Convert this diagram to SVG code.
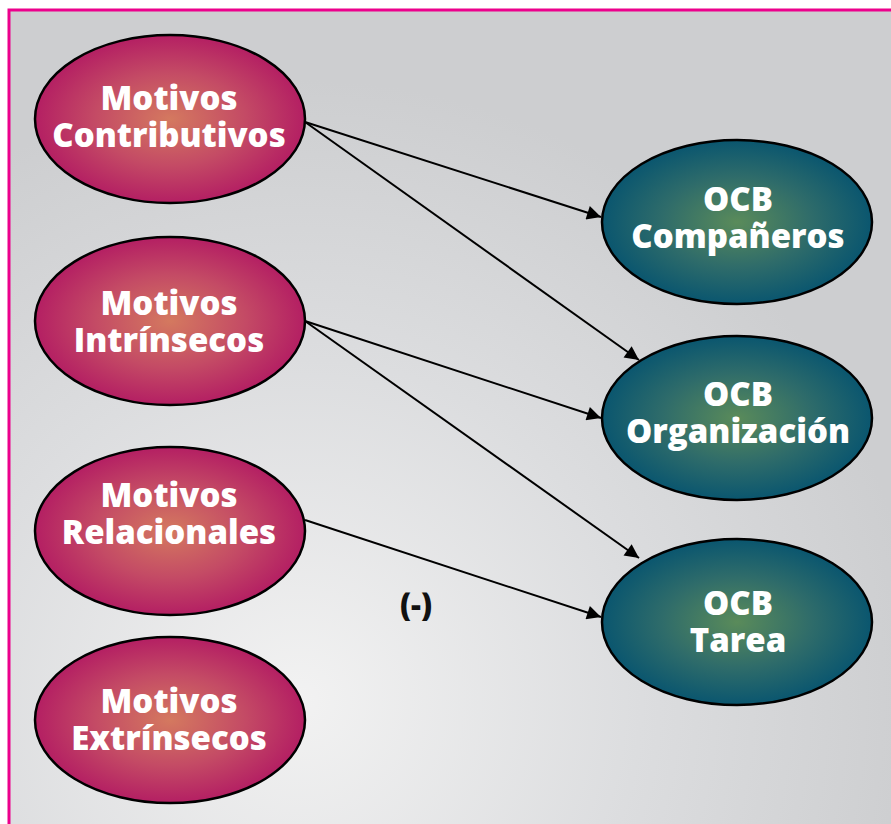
<svg xmlns="http://www.w3.org/2000/svg" width="891" height="824" viewBox="0 0 891 824">
  <defs>
    <radialGradient id="bg" cx="300" cy="700" r="620" gradientUnits="userSpaceOnUse">
      <stop offset="0" stop-color="#f2f2f2"/>
      <stop offset="0.55" stop-color="#dcdddf"/>
      <stop offset="1" stop-color="#cdced0"/>
    </radialGradient>
    <radialGradient id="motive" cx="0.5" cy="0.5" r="0.5">
      <stop offset="0" stop-color="#d4795f"/>
      <stop offset="0.55" stop-color="#c44b65"/>
      <stop offset="1" stop-color="#b41f63"/>
    </radialGradient>
    <radialGradient id="ocb" cx="0.5" cy="0.5" r="0.5">
      <stop offset="0" stop-color="#5a8b5a"/>
      <stop offset="0.55" stop-color="#2f6c6a"/>
      <stop offset="1" stop-color="#0a566f"/>
    </radialGradient>
    <marker id="arrow" viewBox="0 0 10 10" refX="10" refY="5" markerWidth="18" markerHeight="14" markerUnits="userSpaceOnUse" orient="auto">
      <path d="M0,0 L10,5 L0,10 Z" fill="#000"/>
    </marker>
  </defs>
  <style>
    .node ellipse { stroke: #000; stroke-width: 2.5; }
    .node.motive ellipse { fill: url(#motive); }
    .node.ocb ellipse { fill: url(#ocb); }
    .node text { font-family: "Open Sans", "Liberation Sans", sans-serif; font-weight: 800; font-size: 33px; fill: #fff; text-anchor: middle; }
    .edges line { stroke: #000; stroke-width: 2; marker-end: url(#arrow); }
    .label { font-family: "Open Sans", "Liberation Sans", sans-serif; font-weight: 800; font-size: 31px; fill: #111; text-anchor: middle; }
  </style>

  <rect x="0" y="0" width="891" height="824" fill="#fff"/>
  <rect x="9" y="10" width="900" height="830" fill="url(#bg)" stroke="#ec008c" stroke-width="3"/>

  <g class="edges">
    <line x1="305" y1="122" x2="601" y2="217"/>
    <line x1="305" y1="122" x2="639" y2="360"/>
    <line x1="305" y1="321" x2="601" y2="418"/>
    <line x1="305" y1="321" x2="639" y2="558"/>
    <line x1="305" y1="520" x2="601" y2="617"/>
  </g>

  <g id="motivos-contributivos" class="node motive">
    <ellipse cx="170" cy="119" rx="135" ry="84"/>
    <text x="169" y="110">Motivos</text>
    <text x="169" y="147">Contributivos</text>
  </g>
  <g id="motivos-intrinsecos" class="node motive">
    <ellipse cx="170" cy="321" rx="135" ry="84"/>
    <text x="169" y="315">Motivos</text>
    <text x="169" y="352">Intrínsecos</text>
  </g>
  <g id="motivos-relacionales" class="node motive">
    <ellipse cx="170" cy="531" rx="135" ry="84"/>
    <text x="169" y="507">Motivos</text>
    <text x="169" y="544">Relacionales</text>
  </g>
  <g id="motivos-extrinsecos" class="node motive">
    <ellipse cx="170" cy="720" rx="135" ry="83"/>
    <text x="169" y="713">Motivos</text>
    <text x="169" y="750">Extrínsecos</text>
  </g>

  <g id="ocb-companeros" class="node ocb">
    <ellipse cx="737" cy="222" rx="135" ry="82"/>
    <text x="738" y="211">OCB</text>
    <text x="738" y="248">Compañeros</text>
  </g>
  <g id="ocb-organizacion" class="node ocb">
    <ellipse cx="737" cy="418" rx="135" ry="82"/>
    <text x="738" y="406">OCB</text>
    <text x="738" y="443">Organización</text>
  </g>
  <g id="ocb-tarea" class="node ocb">
    <ellipse cx="737" cy="622" rx="135" ry="83"/>
    <text x="738" y="615">OCB</text>
    <text x="738" y="652">Tarea</text>
  </g>

  <text class="label" x="416" y="616">(-)</text>
</svg>
